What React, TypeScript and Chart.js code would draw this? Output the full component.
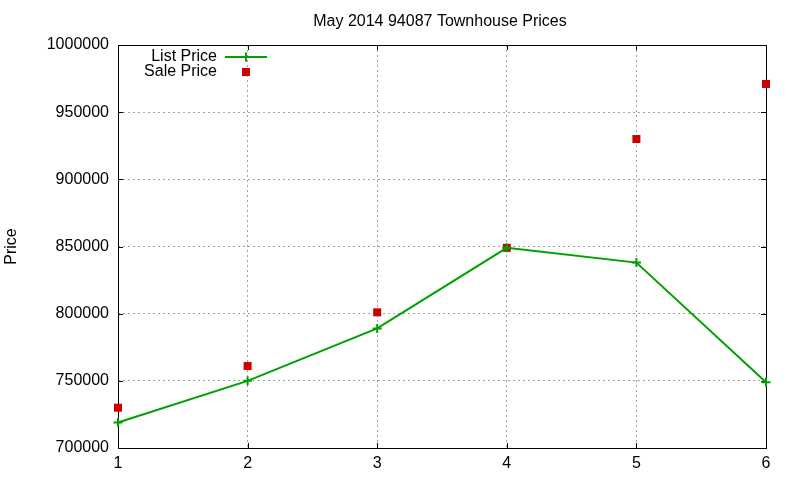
import React, { useEffect, useRef } from "react";
import { Chart, registerables } from "chart.js";

Chart.register(...registerables);

const categories = [1, 2, 3, 4, 5, 6];
const listPrice = [719000, 750000, 789000, 849000, 838000, 749000];
const salePrice = [730000, 761000, 801000, 849000, 930000, 971000];
const yTicks = [700000, 750000, 800000, 850000, 900000, 950000, 1000000];

const TITLE = "May 2014 94087 Townhouse Prices";
const GREEN = "#00a000";
const RED = "#cc0000";
const FONT = "'Liberation Sans', Arial, sans-serif";

const decorPlugin = {
  id: "gnuplotDecor",
  beforeDatasetsDraw(chart: any) {
    const { ctx, chartArea } = chart;
    ctx.save();
    ctx.strokeStyle = "#000";
    ctx.lineWidth = 1;
    ctx.setLineDash([]);
    ctx.strokeRect(
      Math.round(chartArea.left) + 0.5,
      Math.round(chartArea.top) + 0.5,
      Math.round(chartArea.right - chartArea.left),
      Math.round(chartArea.bottom - chartArea.top)
    );
    // inward ticks
    const xs = chart.scales.x;
    const ys = chart.scales.y;
    const L = 5;
    ctx.beginPath();
    ys.ticks.forEach((t: any) => {
      const y = Math.round(ys.getPixelForValue(t.value)) + 0.5;
      ctx.moveTo(chartArea.left, y);
      ctx.lineTo(chartArea.left + L, y);
      ctx.moveTo(chartArea.right, y);
      ctx.lineTo(chartArea.right - L, y);
    });
    xs.ticks.forEach((t: any) => {
      const x = Math.round(xs.getPixelForValue(t.value)) + 0.5;
      ctx.moveTo(x, chartArea.bottom);
      ctx.lineTo(x, chartArea.bottom - L);
      ctx.moveTo(x, chartArea.top);
      ctx.lineTo(x, chartArea.top + L);
    });
    ctx.stroke();
    ctx.restore();
  },
  afterDraw(chart: any) {
    const { ctx, chartArea } = chart;
    ctx.save();
    ctx.fillStyle = "#000";
    ctx.font = `16px ${FONT}`;
    ctx.textAlign = "center";
    ctx.textBaseline = "middle";
    ctx.fillText(TITLE, (chartArea.left + chartArea.right) / 2 - 2, 22);

    // legend
    const textRight = chartArea.left + 99;
    const sampleX = chartArea.left + 128;
    ctx.textAlign = "right";
    ctx.fillText(chart.data.datasets[0].label, textRight, 57);
    ctx.fillText(chart.data.datasets[1].label, textRight, 72);
    ctx.strokeStyle = GREEN;
    ctx.lineWidth = 2;
    ctx.beginPath();
    ctx.moveTo(sampleX - 21, 57);
    ctx.lineTo(sampleX + 21, 57);
    ctx.moveTo(sampleX, 52.5);
    ctx.lineTo(sampleX, 61.5);
    ctx.stroke();
    ctx.fillStyle = RED;
    ctx.fillRect(sampleX - 4, 68, 8, 8);
    ctx.restore();
  },
};

export default function App() {
  const ref = useRef<HTMLCanvasElement | null>(null);

  useEffect(() => {
    document.body.style.margin = "0";
    if (!ref.current) return;
    const chart = new Chart(ref.current, {
      type: "line",
      data: {
        datasets: [
          {
            label: "List Price",
            data: categories.map((c, i) => ({ x: c, y: listPrice[i] })),
            borderColor: GREEN,
            backgroundColor: GREEN,
            borderWidth: 2,
            pointStyle: "cross",
            pointRadius: 4.5,
            pointBorderWidth: 2,
            pointBorderColor: GREEN,
            tension: 0,
            fill: false,
            clip: false,
          },
          {
            label: "Sale Price",
            data: categories.map((c, i) => ({ x: c, y: salePrice[i] })),
            borderColor: RED,
            backgroundColor: RED,
            showLine: false,
            pointStyle: "rect",
            pointRadius: 5.66,
            pointBorderWidth: 0,
            clip: false,
          },
        ],
      },
      options: {
        responsive: false,
        animation: false,
        devicePixelRatio: 1,
        layout: { padding: { top: 45, right: 34, left: 0, bottom: 0 } },
        font: { family: FONT, size: 16 },
        plugins: {
          legend: { display: false },
          title: { display: false },
          tooltip: { enabled: false },
        },
        scales: {
          x: {
            type: "linear",
            min: 1,
            max: 6,
            ticks: {
              stepSize: 1,
              color: "#000",
              padding: 6,
              font: { family: FONT, size: 16 },
            },
            grid: {
              color: "#a0a0a0",
              lineWidth: 1,
              drawTicks: false,
            },
            border: { display: false, dash: [2, 3] },
            afterFit: (s: any) => {
              s.height = 32;
            },
          },
          y: {
            type: "linear",
            min: yTicks[0],
            max: yTicks[yTicks.length - 1],
            afterBuildTicks: (s: any) => {
              s.ticks = yTicks.map((v) => ({ value: v }));
            },
            ticks: {
              stepSize: 50000,
              color: "#000",
              padding: 9,
              font: { family: FONT, size: 16 },
              callback: (v: any) => String(v),
            },
            grid: {
              color: "#a0a0a0",
              lineWidth: 1,
              drawTicks: false,
            },
            border: { display: false, dash: [2, 3] },
            title: {
              display: true,
              text: "Price",
              color: "#000",
              font: { family: FONT, size: 16 },
              padding: { top: 2, bottom: 0 },
            },
            afterFit: (s: any) => {
              s.width = 118;
            },
          },
        },
      },
      plugins: [decorPlugin],
    });
    return () => chart.destroy();
  }, []);

  return (
    <div style={{ position: "absolute", left: 0, top: 0, width: 800, height: 480, background: "#fff" }}>
      <canvas ref={ref} width={800} height={480} />
    </div>
  );
}
